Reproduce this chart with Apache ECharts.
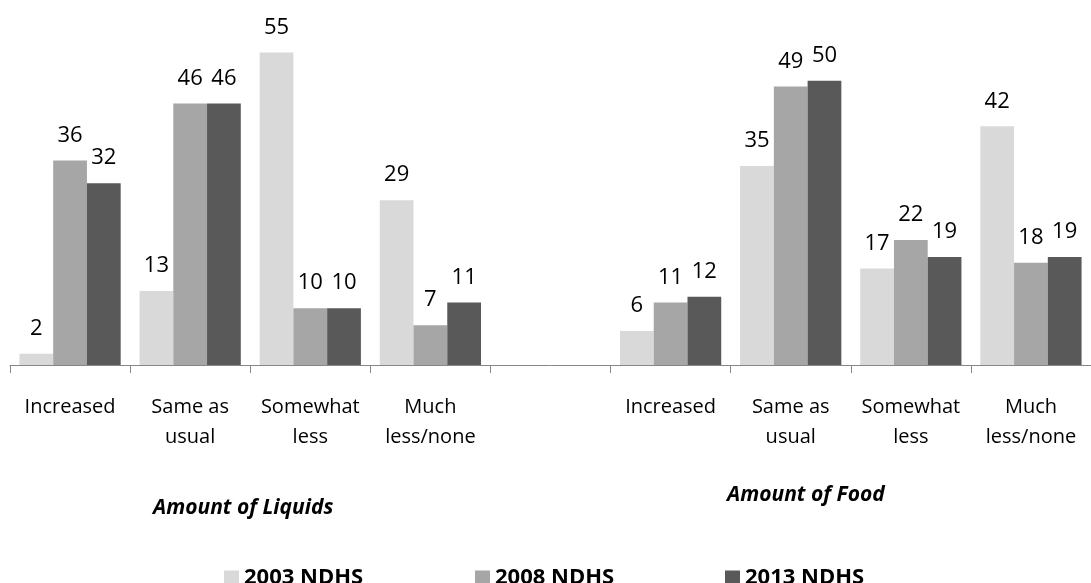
<!DOCTYPE html>
<html>
<head>
<meta charset="utf-8">
<script src="https://cdn.jsdelivr.net/npm/echarts@6/dist/echarts.min.js"></script>
<style>
html,body{margin:0;padding:0;background:#fff;}
#chart{width:1091px;height:583px;}
</style>
</head>
<body>
<div id="chart"></div>
<script>
const categories = ['Increased', 'Same as\nusual', 'Somewhat\nless', 'Much\nless/none', '', 'Increased', 'Same as\nusual', 'Somewhat\nless', 'Much\nless/none'];
const seriesNames = ['2003 NDHS', '2008 NDHS', '2013 NDHS'];
const values2003 = [2, 13, 55, 29, null, 6, 35, 17, 42];
const values2008 = [36, 46, 10, 7, null, 11, 49, 22, 18];
const values2013 = [32, 46, 10, 11, null, 12, 50, 19, 19];
const groupTitles = ['Amount of Liquids', 'Amount of Food'];

const colors = ['#d9d9d9', '#a6a6a6', '#595959'];
const FONT = '"Open Sans", "DejaVu Sans", sans-serif';

const chart = echarts.init(document.getElementById('chart'));

function mkSeries(name, data, color) {
  return {
    name: name,
    type: 'bar',
    data: data,
    barGap: '0%',
    barCategoryGap: '15.7%',
    itemStyle: { color: color },
    label: {
      show: true,
      position: 'top',
      distance: 14,
      color: '#000',
      fontFamily: FONT,
      fontSize: 22
    }
  };
}

const legendLefts = [219, 470, 720];

chart.setOption({
  animation: false,
  backgroundColor: '#fff',
  color: colors,
  grid: { left: 10, right: -8, top: 24, bottom: 218, containLabel: false },
  xAxis: {
    type: 'category',
    data: categories,
    axisLine: { show: true, lineStyle: { color: '#868686', width: 1 } },
    axisTick: { show: true, length: 8, lineStyle: { color: '#868686' } },
    axisLabel: {
      color: '#000',
      fontFamily: FONT,
      fontSize: 20,
      lineHeight: 30,
      margin: 27,
      interval: 0
    }
  },
  yAxis: {
    type: 'value',
    min: 0,
    max: 60,
    show: false,
    splitLine: { show: false }
  },
  legend: seriesNames.map((n, i) => ({
    data: [n],
    left: legendLefts[i],
    top: 562,
    itemWidth: 15,
    itemHeight: 15,
    icon: 'rect',
    textStyle: { color: '#000', fontFamily: FONT, fontSize: 22, fontWeight: 'bold' }
  })),
  graphic: [
    {
      type: 'text',
      left: 153,
      top: 498,
      style: { text: groupTitles[0], font: 'italic bold 21px ' + FONT, fill: '#000' }
    },
    {
      type: 'text',
      left: 727,
      top: 485,
      style: { text: groupTitles[1], font: 'italic bold 21px ' + FONT, fill: '#000' }
    }
  ],
  series: [
    mkSeries(seriesNames[0], values2003, colors[0]),
    mkSeries(seriesNames[1], values2008, colors[1]),
    mkSeries(seriesNames[2], values2013, colors[2])
  ]
});
</script>
</body>
</html>
